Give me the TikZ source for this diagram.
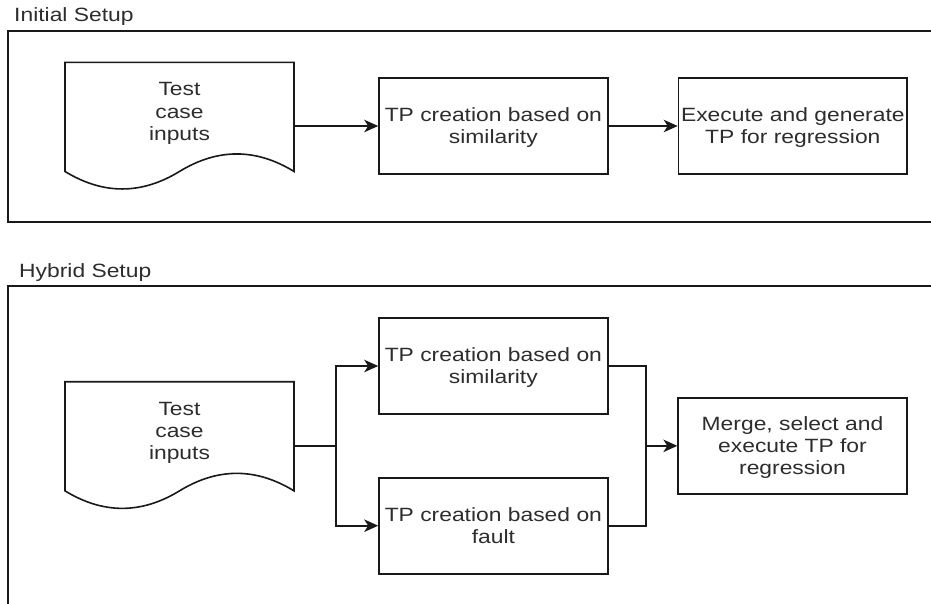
\documentclass[tikz,border=0pt]{standalone}
\usepackage{fontspec}
\setmainfont{Liberation Sans}[FakeStretch=1.19]
\usetikzlibrary{arrows.meta}
\definecolor{txt}{RGB}{45,45,45}
\definecolor{ln}{RGB}{25,25,25}
\newcommand\dfont{\fontsize{19.2}{22.4}\selectfont}
\newcommand\ls{\rule[-4.5pt]{0pt}{22.4pt}}
\tikzset{
  docshape/.pic={
    \draw[draw=ln,line width=1.6pt] (0,0) -- (229,0) -- (229,109.15)
      .. controls (190.83,85.81) and (152.67,85.81) .. (114.5,109.15)
      .. controls (76.33,132.49) and (38.17,132.49) .. (0,109.15) -- cycle;
  }
}
\begin{document}
\begin{tikzpicture}[x=1pt,y=-1pt,
  every node/.style={font=\dfont, text=txt},
  proc/.style={draw=ln, line width=1.6pt, minimum width=228.7pt, minimum height=96pt, inner sep=0pt, align=center},
  doctext/.style={inner sep=0pt, align=center},
  frame/.style={draw=ln, line width=1.4pt},
  conn/.style={draw=ln, line width=1.6pt},
  arr/.style={conn, -{Stealth[length=14pt,width=12.5pt,inset=4pt]}},
  grouplabel/.style={anchor=base west, inner sep=0pt}
]
\useasboundingbox (0,0) rectangle (931,603);
\clip (0,0) rectangle (931,603);
\fill[white] (0,0) rectangle (931,603);

% group frames and labels
\node[grouplabel] (lblinit) at (14,21.5) {Initial Setup};
\draw[frame] (945,31) -- (8,31) -- (8,222) -- (945,222);
\node[grouplabel] (lblhyb) at (19,277) {Hybrid Setup};
\draw[frame] (945,286) -- (8,286) -- (8,620);

% Initial setup
\pic at (65,62.3) {docshape};
\node[doctext] (doc1) at (179.5,111.4) {\ls Test\\\ls case\\\ls inputs};
\coordinate (doc1out) at (294,126);
\node[proc] (sim1) at (493.35,126) {\ls TP creation based on\\\ls similarity};
\node[proc] (exec) at (792.85,126) {\ls Execute and generate\\\ls TP for regression};
\draw[arr] (doc1out) -- (sim1);
\draw[arr] (sim1) -- (exec);

% Hybrid setup
\pic at (65,381.7) {docshape};
\node[doctext] (doc2) at (179.5,430.8) {\ls Test\\\ls case\\\ls inputs};
\coordinate (doc2out) at (294,445.85);
\coordinate (split) at (335.7,445.85);
\node[proc] (sim2) at (493.35,366) {\ls TP creation based on\\\ls similarity};
\node[proc] (fault) at (493.35,525.7) {\ls TP creation based on\\\ls fault};
\node[proc] (merge) at (792.5,445.85) {\ls Merge, select and\\\ls execute TP for\\\ls regression};
\coordinate (join) at (645.7,445.85);
\draw[conn] (doc2out) -- (split);
\draw[arr] (split) |- (sim2);
\draw[arr] (split) |- (fault);
\draw[conn] (sim2.east) -| (join);
\draw[conn] (fault.east) -| (join);
\draw[arr] (join) -- (merge);
\end{tikzpicture}
\end{document}
